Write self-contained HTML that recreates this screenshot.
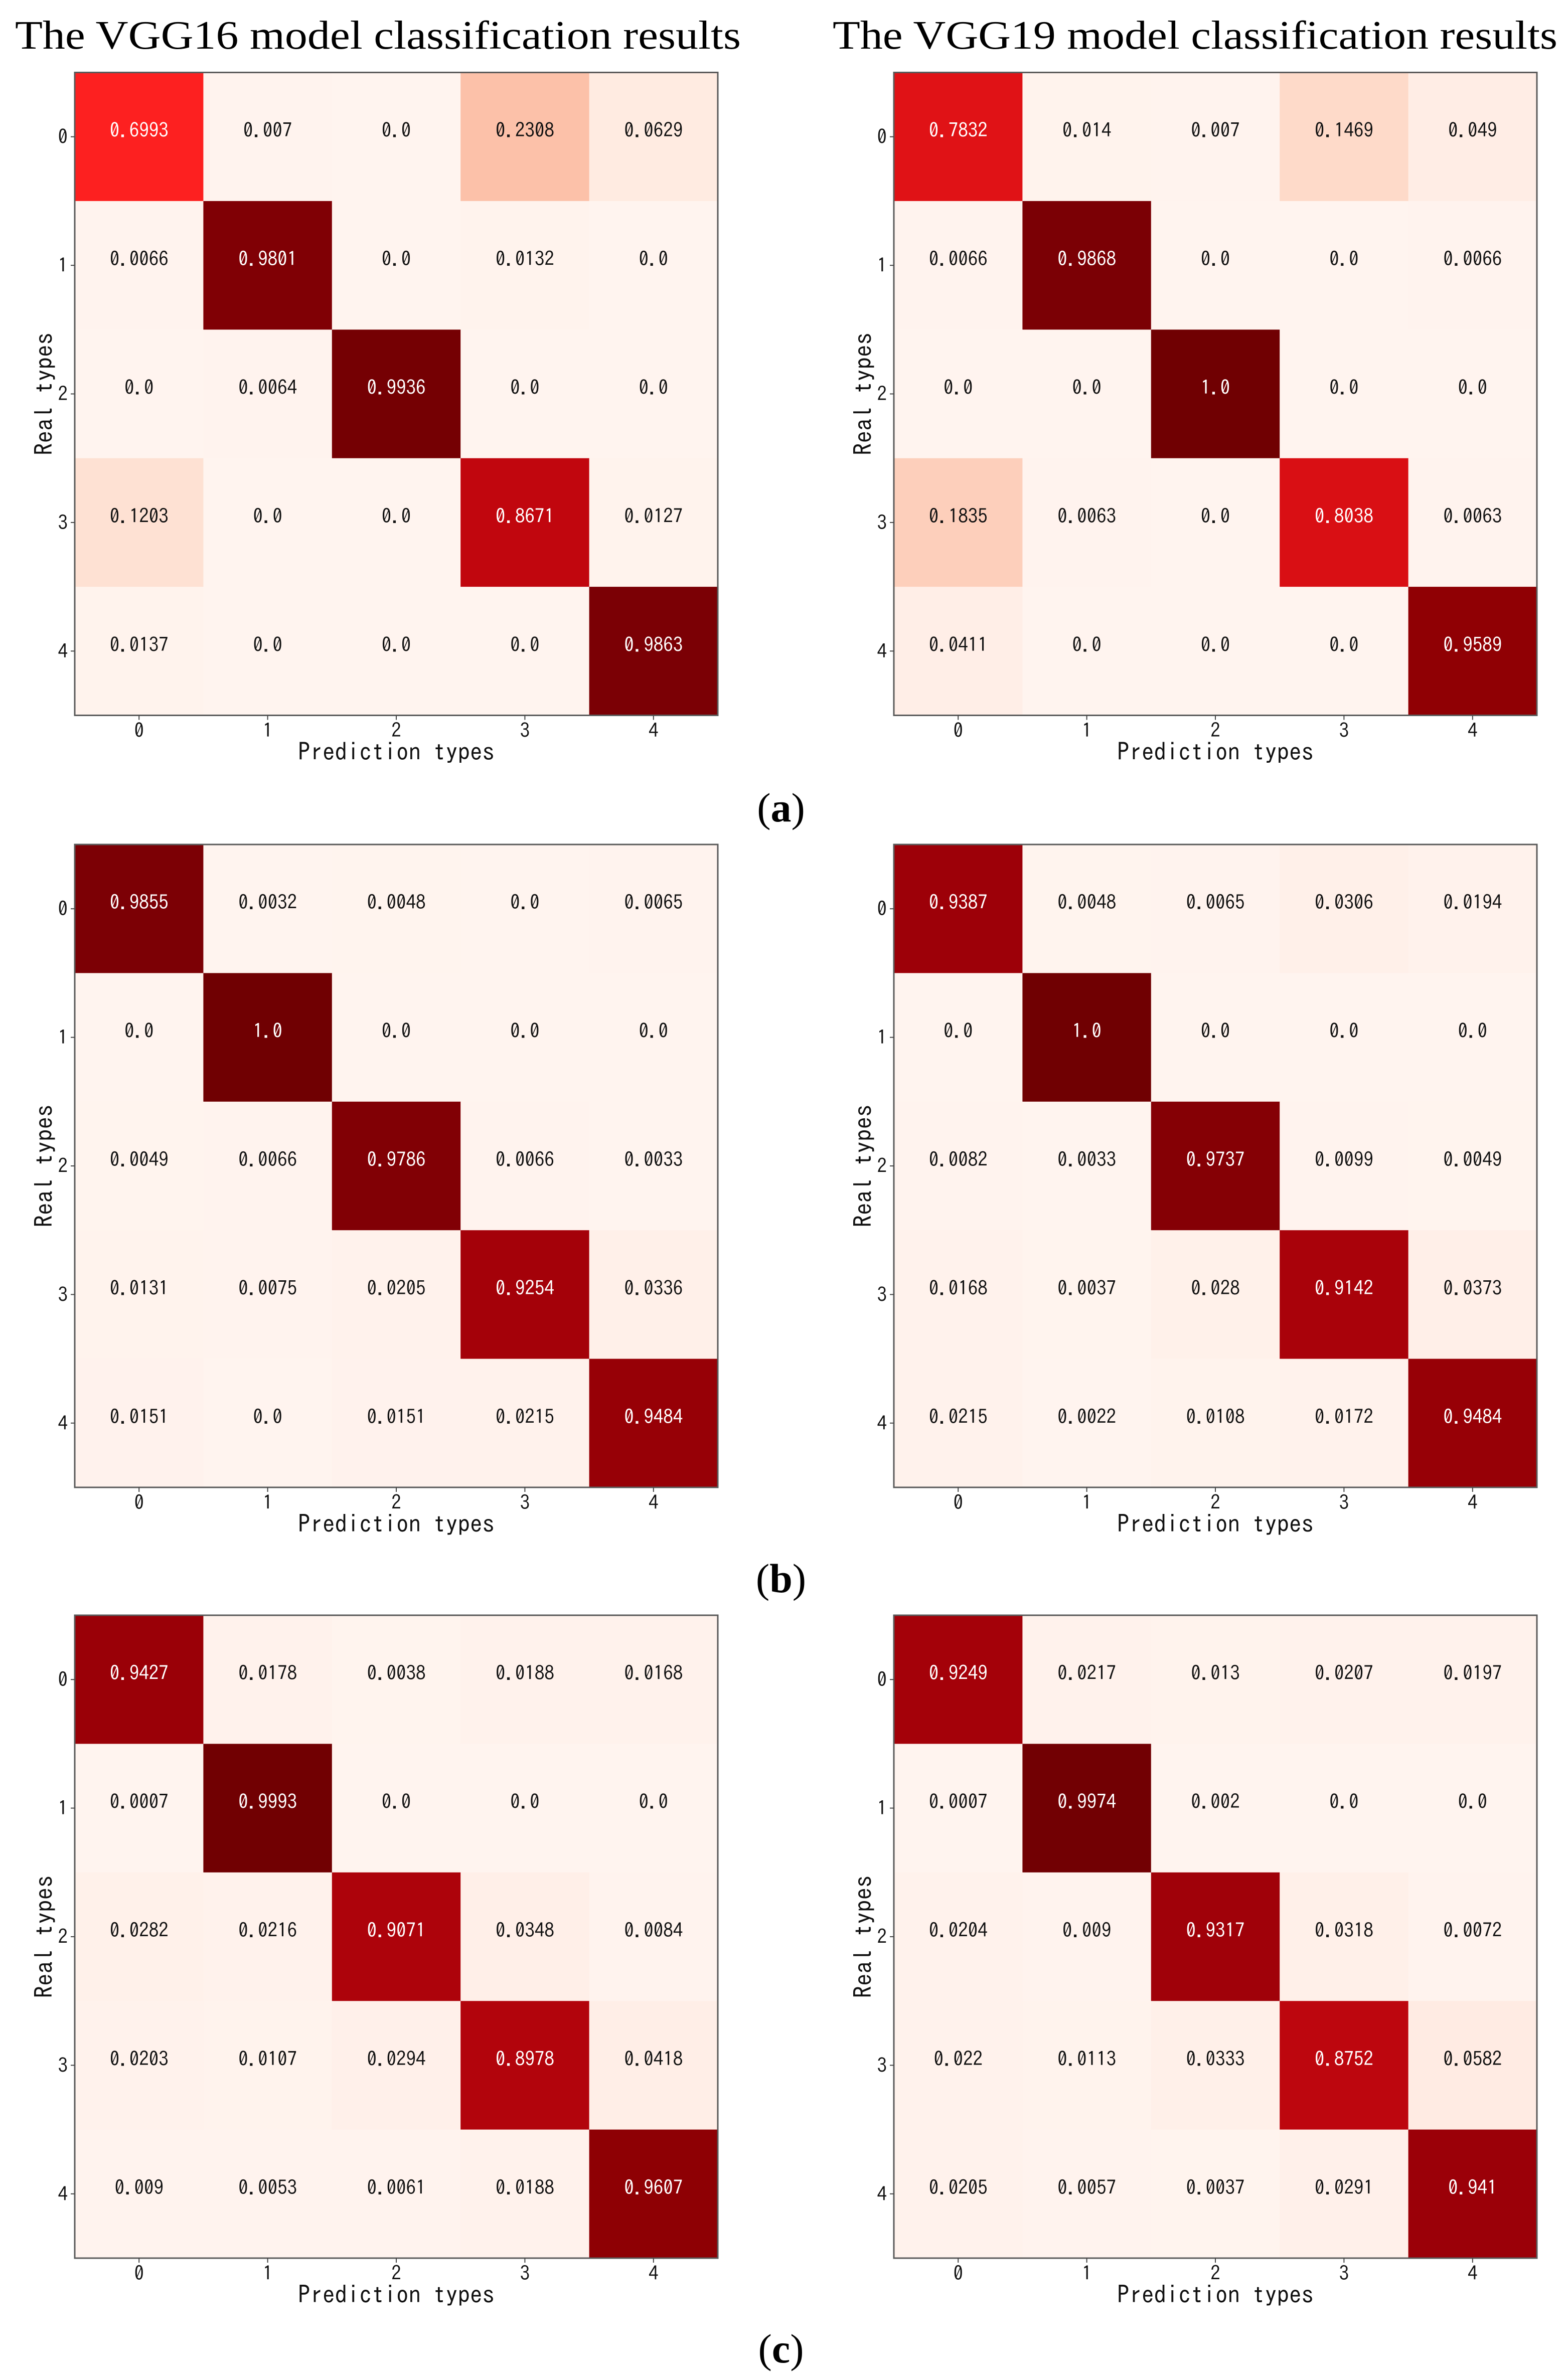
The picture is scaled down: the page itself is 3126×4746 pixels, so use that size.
<!DOCTYPE html>
<html lang="en">
<head>
<meta charset="utf-8">
<title>VGG16 and VGG19 confusion matrices</title>
<style>
html,body{margin:0;padding:0;background:#fff;width:3126px;height:4746px;overflow:hidden}
svg{display:block}
.serif{font-family:"Liberation Serif",serif;fill:#000}
.hei{font-family:"IPAGothic","WenQuanYi Zen Hei",monospace;fill:#111}
</style>
</head>
<body>
<svg id="figure" xmlns="http://www.w3.org/2000/svg" width="3126" height="4746" viewBox="0 0 3126 4746">
<rect x="0" y="0" width="3126" height="4746" fill="#fff"/>
<text class="serif" x="30" y="97" font-size="80" textLength="1447" lengthAdjust="spacingAndGlyphs">The VGG16 model classification results</text>
<text class="serif" x="1660" y="97" font-size="80" textLength="1445" lengthAdjust="spacingAndGlyphs">The VGG19 model classification results</text>
<text class="serif" x="1557" y="1638" font-size="82" text-anchor="middle">(<tspan font-weight="bold">a</tspan>)</text>
<text class="serif" x="1557" y="3175" font-size="82" text-anchor="middle">(<tspan font-weight="bold">b</tspan>)</text>
<text class="serif" x="1557" y="4711" font-size="82" text-anchor="middle">(<tspan font-weight="bold">c</tspan>)</text>
</svg>
<script>
const classLabels = ['0', '1', '2', '3', '4'];
const xAxisTitle = 'Prediction types';
const yAxisTitle = 'Real types';

const matrixAVgg16 = [
  [0.6993, 0.007, 0, 0.2308, 0.0629],
  [0.0066, 0.9801, 0, 0.0132, 0],
  [0, 0.0064, 0.9936, 0, 0],
  [0.1203, 0, 0, 0.8671, 0.0127],
  [0.0137, 0, 0, 0, 0.9863]
];
const matrixAVgg19 = [
  [0.7832, 0.014, 0.007, 0.1469, 0.049],
  [0.0066, 0.9868, 0, 0, 0.0066],
  [0, 0, 1, 0, 0],
  [0.1835, 0.0063, 0, 0.8038, 0.0063],
  [0.0411, 0, 0, 0, 0.9589]
];
const matrixBVgg16 = [
  [0.9855, 0.0032, 0.0048, 0, 0.0065],
  [0, 1, 0, 0, 0],
  [0.0049, 0.0066, 0.9786, 0.0066, 0.0033],
  [0.0131, 0.0075, 0.0205, 0.9254, 0.0336],
  [0.0151, 0, 0.0151, 0.0215, 0.9484]
];
const matrixBVgg19 = [
  [0.9387, 0.0048, 0.0065, 0.0306, 0.0194],
  [0, 1, 0, 0, 0],
  [0.0082, 0.0033, 0.9737, 0.0099, 0.0049],
  [0.0168, 0.0037, 0.028, 0.9142, 0.0373],
  [0.0215, 0.0022, 0.0108, 0.0172, 0.9484]
];
const matrixCVgg16 = [
  [0.9427, 0.0178, 0.0038, 0.0188, 0.0168],
  [0.0007, 0.9993, 0, 0, 0],
  [0.0282, 0.0216, 0.9071, 0.0348, 0.0084],
  [0.0203, 0.0107, 0.0294, 0.8978, 0.0418],
  [0.009, 0.0053, 0.0061, 0.0188, 0.9607]
];
const matrixCVgg19 = [
  [0.9249, 0.0217, 0.013, 0.0207, 0.0197],
  [0.0007, 0.9974, 0.002, 0, 0],
  [0.0204, 0.009, 0.9317, 0.0318, 0.0072],
  [0.022, 0.0113, 0.0333, 0.8752, 0.0582],
  [0.0205, 0.0057, 0.0037, 0.0291, 0.941]
];

const colorScale = [
  [0, 255, 244, 239], [0.02, 255, 242, 236], [0.125, 254, 224, 210], [0.25, 252, 187, 161], [0.375, 252, 146, 114],
  [0.5, 251, 106, 74], [0.7, 253, 32, 32], [0.8, 218, 15, 20], [0.87, 192, 6, 14],
  [0.94, 156, 0, 8], [0.96, 143, 0, 4], [0.985, 124, 0, 5], [1, 112, 0, 2]
];

const NS = 'http://www.w3.org/2000/svg';
const svg = document.getElementById('figure');
const SIZE = 1282;

function colorFor(v) {
  for (let i = 1; i < colorScale.length; i++) {
    const a = colorScale[i - 1], b = colorScale[i];
    if (v <= b[0]) {
      const t = (v - a[0]) / (b[0] - a[0]);
      const c = [1, 2, 3].map(k => Math.round(a[k] + (b[k] - a[k]) * t));
      return 'rgb(' + c.join(',') + ')';
    }
  }
  return 'rgb(112,0,2)';
}
function node(tag, parent, attrs) {
  const el = document.createElementNS(NS, tag);
  for (const k in attrs) el.setAttribute(k, attrs[k]);
  parent.appendChild(el);
  return el;
}
function formatValue(v) {
  return Number.isInteger(v) ? v.toFixed(1) : String(v);
}

function drawPanel(matrix, left, top, id) {
  const n = classLabels.length;
  const xScale = i => left + (i + 0.5) * SIZE / n;
  const yScale = i => top + (i + 0.5) * SIZE / n;
  const cell = SIZE / n;

  const g = node('g', svg, {});
  
  

  matrix.forEach((row, r) => row.forEach((v, c) => {
    const rect = node('rect', g, {
      x: xScale(c) - cell / 2, y: yScale(r) - cell / 2,
      width: cell + 0.5, height: cell + 0.5, fill: colorFor(v)
    });
    
    
  }));
  matrix.forEach((row, r) => row.forEach((v, c) => {
    const t = node('text', g, {
      x: xScale(c), y: yScale(r) + 1, 'text-anchor': 'middle',
      'font-size': 39, class: 'hei'
    });
    t.style.fill = v > 0.5 ? '#fff' : '#111';
    t.textContent = formatValue(v);
    
    
  }));

  const frame = node('rect', g, {
    x: left, y: top, width: SIZE, height: SIZE, fill: 'none', stroke: '#5a5a5a', 'stroke-width': 3
  });
  
  

  classLabels.forEach((label, i) => {
    const xt = node('line', g, { x1: xScale(i), x2: xScale(i), y1: top + SIZE, y2: top + SIZE + 9, stroke: '#444', 'stroke-width': 2 });
    
    
    const xl = node('text', g, { x: xScale(i), y: top + SIZE + 44, 'text-anchor': 'middle', 'font-size': 39, class: 'hei' });
    xl.textContent = label;
    
    
    const yt = node('line', g, { x1: left - 8, x2: left, y1: yScale(i), y2: yScale(i), stroke: '#444', 'stroke-width': 2 });
    
    
    const yl = node('text', g, { x: left - 14, y: yScale(i) + 14, 'text-anchor': 'end', 'font-size': 39, class: 'hei' });
    yl.textContent = label;
    
    
  });

  const xTitle = node('text', g, { x: left + SIZE / 2, y: top + SIZE + 90, 'text-anchor': 'middle', 'font-size': 49, class: 'hei' });
  xTitle.textContent = xAxisTitle;
  
  
  const yTitle = node('text', g, {
    x: 0, y: 0, 'text-anchor': 'middle', 'font-size': 49, class: 'hei',
    transform: 'translate(' + (left - 44) + ' ' + (top + SIZE / 2) + ') rotate(-90)'
  });
  yTitle.textContent = yAxisTitle;
  
  
}

drawPanel(matrixAVgg16, 149, 144.5, 'a-vgg16');
drawPanel(matrixAVgg19, 1782, 144.5, 'a-vgg19');
drawPanel(matrixBVgg16, 149, 1684, 'b-vgg16');
drawPanel(matrixBVgg19, 1782, 1684, 'b-vgg19');
drawPanel(matrixCVgg16, 149, 3221, 'c-vgg16');
drawPanel(matrixCVgg19, 1782, 3221, 'c-vgg19');
</script>
</body>
</html>
